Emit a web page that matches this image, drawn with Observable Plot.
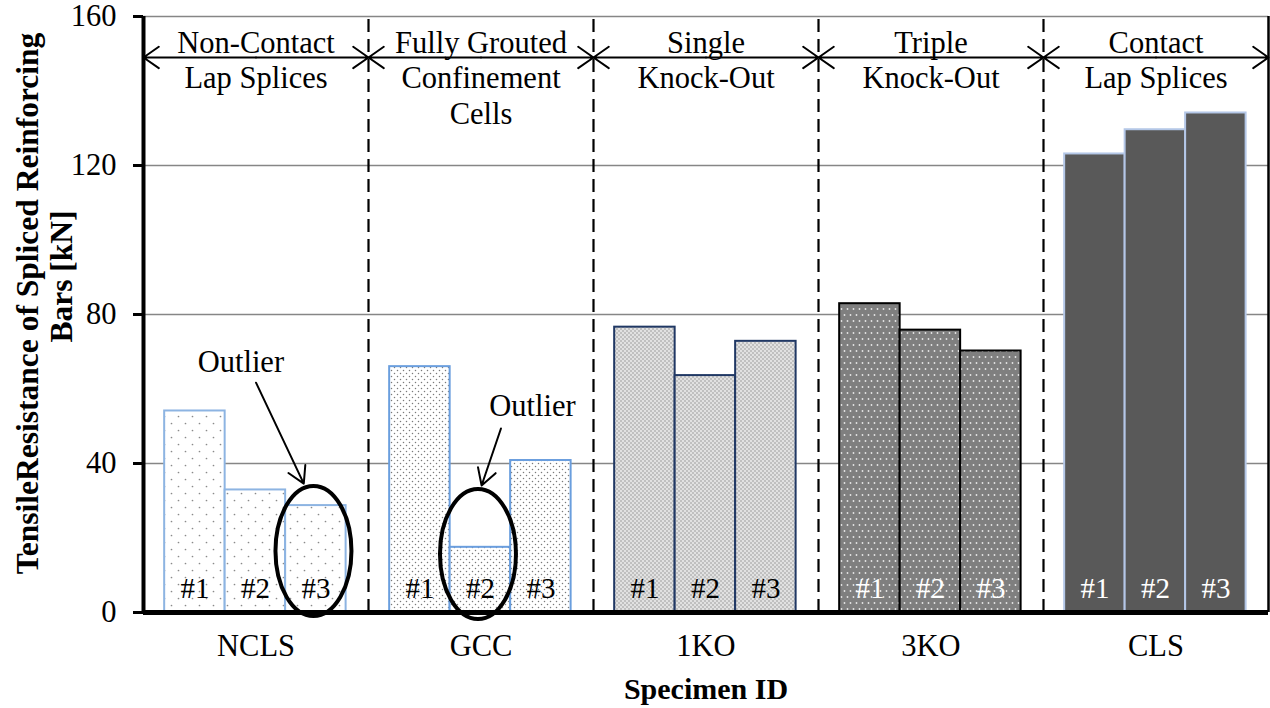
<!DOCTYPE html>
<html><head><meta charset="utf-8">
<script src="https://cdn.jsdelivr.net/npm/d3@7"></script>
<script src="https://cdn.jsdelivr.net/npm/@observablehq/plot@0.6"></script>
<style>body{margin:0;background:#fff} svg{display:block}</style>
</head><body><div id="chart"></div>
<script>
// ---- data ----
const groups = ["NCLS", "GCC", "1KO", "3KO", "CLS"];
const groupTitles = ["Non-Contact\nLap Splices", "Fully Grouted\nConfinement\nCells", "Single\nKnock-Out", "Triple\nKnock-Out", "Contact\nLap Splices"];
const specimens = ["#1", "#2", "#3"];
const nclsValues = [54.1, 32.9, 28.7];
const gccValues = [66.0, 17.5, 40.8];
const ko1Values = [76.6, 63.6, 72.8];
const ko3Values = [82.9, 75.8, 70.2];
const clsValues = [123.1, 129.6, 134.1];
const yTicks = [0, 40, 80, 120, 160];
const gridTicks = [40, 80, 120, 160];
const outlierGroups = ["NCLS", "GCC"];
const outlierSpecimen = [2, 1];          // index of outlier bar
const outlierTextAt = [[1.26, 67.1], [2.36, 55.3]];
const outlierArrowFrom = [[1.51, 61.7], [1.84, 49.4]];
const outlierArrowTo = [[2.30, 34.6], [1.52, 34.1]];
const outlierRingY = [16.5, 15.7];

// ---- styles ----
const xDomain = [-0.35, 3.37];
const xMid = (xDomain[0] + xDomain[1]) / 2;
const headerY = 149;
const barStroke = {NCLS: "#8db4e2", GCC: "#6a9ede", "1KO": "#203864", "3KO": "#000000", CLS: "#b4c7e7"};
const labelFill = {NCLS: "black", GCC: "black", "1KO": "black", "3KO": "white", CLS: "white"};
const font = "'Liberation Serif', 'Times New Roman', serif";

const seriesByGroup = {NCLS: nclsValues, GCC: gccValues, "1KO": ko1Values, "3KO": ko3Values, CLS: clsValues};
const bars = groups.flatMap(g => seriesByGroup[g].map((v, i) => ({group: g, specimen: specimens[i], i, value: v})));
const groupRows = groups.map((g, k) => ({group: g, title: groupTitles[k]}));
const headerArrows = groups.flatMap(g => [{group: g, end: xDomain[0]}, {group: g, end: xDomain[1]}]);
const notes = outlierGroups.map((g, k) => ({
  group: g,
  tx: outlierTextAt[k][0], ty: outlierTextAt[k][1],
  ax1: outlierArrowFrom[k][0], ay1: outlierArrowFrom[k][1],
  ax2: outlierArrowTo[k][0], ay2: outlierArrowTo[k][1],
  rx: outlierSpecimen[k] + 0.5 - 0.04, ry: outlierRingY[k]
}));

const ellipse = {draw(ctx) {
  const a = 38, b = 65, k = 0.5523;
  ctx.moveTo(a, 0);
  ctx.bezierCurveTo(a, b * k, a * k, b, 0, b);
  ctx.bezierCurveTo(-a * k, b, -a, b * k, -a, 0);
  ctx.bezierCurveTo(-a, -b * k, -a * k, -b, 0, -b);
  ctx.bezierCurveTo(a * k, -b, a, -b * k, a, 0);
  ctx.closePath();
}};

const plot = Plot.plot({
  width: 1270, height: 708,
  marginLeft: 143, marginRight: 2, marginTop: 16, marginBottom: 96,
  style: {fontFamily: font, fontSize: "30.5px", background: "white", color: "black"},
  fx: {domain: groups, padding: 0},
  x: {type: "linear", domain: xDomain, axis: null},
  y: {domain: [0, 160], axis: null},
  color: {type: "identity"},
  marks: [
    Plot.gridY(gridTicks, {stroke: "#868686", strokeOpacity: 1, strokeWidth: 1.5}),
    Plot.ruleX(groupRows.slice(1), {fx: "group", x: () => xDomain[0], y1: 0, y2: 160, stroke: "black", strokeWidth: 2.2, strokeDasharray: "13,7"}),
    Plot.rectY(bars, {fx: "group", x1: d => d.i, x2: d => d.i + 1, y1: 0, y2: "value",
      fill: d => `url(#pat-${d.group})`, stroke: d => barStroke[d.group], strokeWidth: 2}),
    Plot.text(bars, {fx: "group", x: d => d.i + 0.5, y: 0, dy: -24, text: "specimen", fill: d => labelFill[d.group], fontSize: 29}),
    Plot.arrow(headerArrows, {fx: "group", x1: () => xMid, x2: "end", y1: () => headerY, y2: () => headerY,
      stroke: "black", strokeWidth: 2, headLength: 14, headAngle: 70}),
    Plot.text(groupRows, {fx: "group", text: "title", frameAnchor: "top", dy: 12, lineAnchor: "top", lineHeight: 1.15, fontSize: 30.5}),
    Plot.text(notes, {fx: "group", x: "tx", y: "ty", text: () => "Outlier", fontSize: 30.5}),
    Plot.arrow(notes, {fx: "group", x1: "ax1", y1: "ay1", x2: "ax2", y2: "ay2", stroke: "black", strokeWidth: 2, headLength: 14}),
    Plot.dot(notes, {fx: "group", x: "rx", y: "ry", symbol: ellipse, r: 10, fill: "none", stroke: "black", strokeWidth: 4}),
    Plot.ruleY([0], {stroke: "black", strokeWidth: 5}),
    Plot.ruleX([{group: "NCLS"}], {fx: "group", x: () => xDomain[0], y1: 0, y2: 160, stroke: "black", strokeWidth: 4}),
    Plot.ruleX([{group: "CLS"}], {fx: "group", x: () => xDomain[1], y1: 0, y2: 160, stroke: "black", strokeWidth: 2.5}),
    Plot.axisY({ticks: yTicks, tickSize: 10, tickPadding: 17, strokeWidth: 3, fontSize: 30.5, label: null}),
    Plot.axisFx({anchor: "bottom", tickSize: 0, tickPadding: 22, fontSize: 30.5, label: null}),
    Plot.text([{group: "NCLS"}], {fx: "group", text: () => "TensileResistance of Spliced Reinforcing", frameAnchor: "left",
      textAnchor: "middle", rotate: -90, dx: -116, dy: -11, fontWeight: "bold", fontSize: 31.5}),
    Plot.text([{group: "NCLS"}], {fx: "group", text: () => "Bars [kN]", frameAnchor: "left",
      textAnchor: "middle", rotate: -90, dx: -82, dy: -38, fontWeight: "bold", fontSize: 31.5}),
    Plot.text([{group: "1KO"}], {fx: "group", text: () => "Specimen ID", frameAnchor: "bottom",
      dy: 86, fontWeight: "bold", fontSize: 30})
  ]
});

const svgEl = plot.tagName.toLowerCase() === "svg" ? plot : plot.querySelector("svg");
const defs = d3.select(svgEl).insert("defs", ":first-child");
function pattern(id, w, h, bg, dots, dotFill, r) {
  const p = defs.append("pattern").attr("id", id).attr("patternUnits", "userSpaceOnUse").attr("width", w).attr("height", h);
  p.append("rect").attr("width", w).attr("height", h).attr("fill", bg);
  dots.forEach(([cx, cy]) => p.append("circle").attr("cx", cx).attr("cy", cy).attr("r", r).attr("fill", dotFill));
  return p;
}
pattern("pat-NCLS", 14, 14, "white", [[3.5, 3.5], [10.5, 10.5]], "#8a8a8a", 0.85);
pattern("pat-GCC", 6, 6, "white", [[1.5, 1.5], [4.5, 4.5]], "#7a7a7a", 0.75);
pattern("pat-1KO", 4, 4, "#c0c0c0", [[1, 1], [3, 3]], "#f2f2f2", 0.9);
pattern("pat-3KO", 6, 12, "#7f7f7f", [[1.5, 3], [4.5, 9]], "#e6e6e6", 0.9);
pattern("pat-CLS", 4, 4, "#595959", [], "none", 0);

document.getElementById("chart").appendChild(plot);
</script>
</body></html>
